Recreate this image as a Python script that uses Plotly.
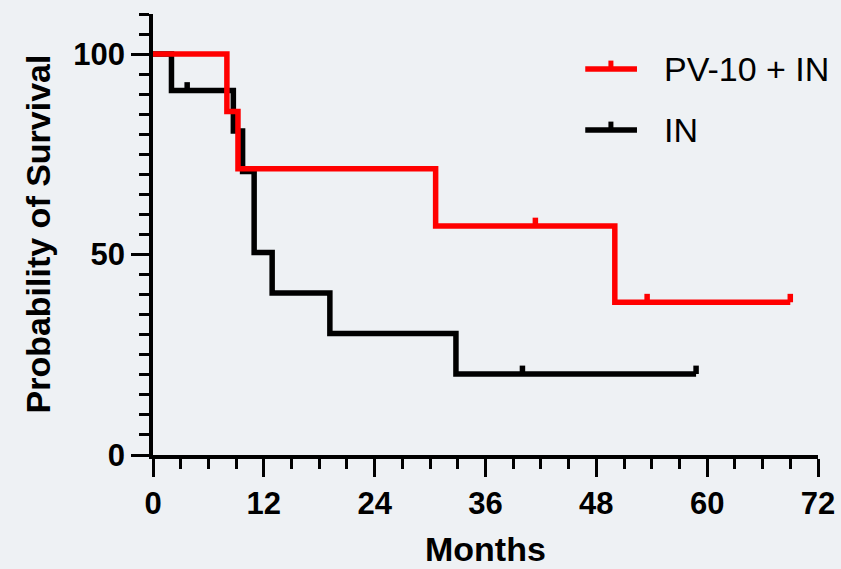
import plotly.graph_objects as go

# ---- data ----
red_name = "PV-10 + IN"
red_times = [0, 8.0, 9.2, 30.6, 50.0, 69.0]
red_surv = [100, 85.7, 71.4, 57.1, 38.1, 38.1]
red_cens_t = [41.4, 53.5, 69.0]
red_cens_s = [57.1, 38.1, 38.1]

blk_name = "IN"
blk_times = [0, 2.0, 8.7, 9.7, 10.95, 12.9, 19.15, 32.8, 58.8]
blk_surv = [100, 90.9, 80.8, 70.7, 50.5, 40.4, 30.3, 20.2, 20.2]
blk_cens_t = [3.7, 40.0, 58.8]
blk_cens_s = [90.9, 20.2, 20.2]

x_ticks = [0, 12, 24, 36, 48, 60, 72]
y_ticks = [0, 50, 100]

RED = "#ff0000"
BLK = "#000000"
BG = "#eef1f4"
FONT = "Arial, Liberation Sans, sans-serif"
TICK_H = 2.1  # censor tick height in survival units


def censor_segments(ts, ss):
    xs, ys = [], []
    for t, s in zip(ts, ss):
        xs += [t, t, None]
        ys += [s, s + TICK_H, None]
    return xs, ys


fig = go.Figure()

for times, surv, ct, cs, col, name in [
    (blk_times, blk_surv, blk_cens_t, blk_cens_s, BLK, blk_name),
    (red_times, red_surv, red_cens_t, red_cens_s, RED, red_name),
]:
    fig.add_trace(go.Scatter(x=times, y=surv, mode="lines", line_shape="hv",
                             line=dict(color=col, width=5.5), name=name,
                             showlegend=False, cliponaxis=False))
    cx, cy = censor_segments(ct, cs)
    fig.add_trace(go.Scatter(x=cx, y=cy, mode="lines",
                             line=dict(color=col, width=5.5),
                             showlegend=False, cliponaxis=False,
                             hoverinfo="skip"))

axis_common = dict(
    showline=True, linecolor="black", linewidth=3.5,
    ticks="outside", ticklen=18, tickwidth=3, tickcolor="black",
    showgrid=False, zeroline=False, automargin=False,
    tickfont=dict(family=FONT, size=31, color="black", weight="bold"),
)

fig.update_xaxes(range=[0, 72], tickvals=x_ticks, ticktext=[str(v) for v in x_ticks],
                 minor=dict(dtick=3, ticklen=10, tickwidth=3, tickcolor="black", ticks="outside"),
                 **axis_common)
fig.update_yaxes(range=[0, 110], tickvals=y_ticks, ticktext=[str(v) for v in y_ticks],
                 minor=dict(dtick=5, ticklen=10, tickwidth=3, tickcolor="black", ticks="outside"),
                 **axis_common)

annotations = [
    dict(text="<b>Months</b>", x=0.5, y=-0.213, xref="paper", yref="paper",
         showarrow=False, xanchor="center", yanchor="middle",
         font=dict(family=FONT, size=34, color="black")),
    dict(text="<b>Probability of Survival</b>", x=-0.1744, y=0.5, xref="paper", yref="paper",
         showarrow=False, xanchor="center", yanchor="middle", textangle=-90,
         font=dict(family=FONT, size=34, color="black")),
]

# manual legend
shapes = []
legend_items = [(red_name, RED, 0.8753), (blk_name, BLK, 0.737)]
for name, col, ly in legend_items:
    shapes.append(dict(type="line", xref="paper", yref="paper", x0=0.650, x1=0.7278,
                       y0=ly, y1=ly, line=dict(color=col, width=5.5)))
    shapes.append(dict(type="line", xref="paper", yref="paper", x0=0.6886, x1=0.6886,
                       y0=ly, y1=ly + 0.019, line=dict(color=col, width=5)))
    annotations.append(dict(text=name, x=0.7654, y=ly, xref="paper", yref="paper",
                            showarrow=False, xanchor="left", yanchor="middle",
                            font=dict(family=FONT, size=34, color="black")))

fig.update_layout(
    width=841, height=569,
    margin=dict(l=153, r=23, t=14, b=114),
    paper_bgcolor=BG, plot_bgcolor=BG,
    annotations=annotations, shapes=shapes,
    showlegend=False,
)

fig.write_html("out.html")
